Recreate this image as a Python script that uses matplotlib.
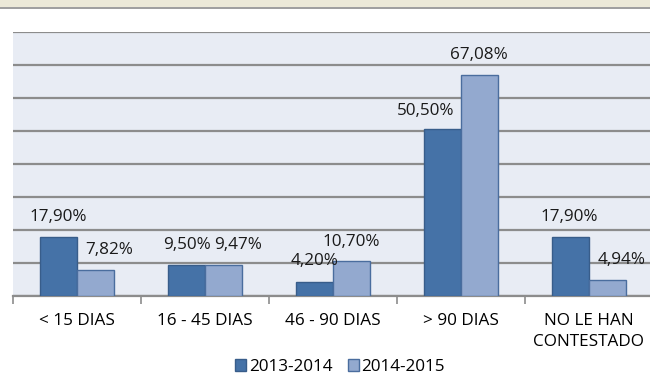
import matplotlib
matplotlib.use('Agg')
import matplotlib.pyplot as plt
from matplotlib.patches import Patch, Rectangle
import numpy as np

categories = ['< 15 DIAS', '16 - 45 DIAS', '46 - 90 DIAS', '> 90 DIAS', 'NO LE HAN\nCONTESTADO']
serie_1314 = [17.90, 9.50, 4.20, 50.50, 17.90]
serie_1415 = [7.82, 9.47, 10.70, 67.08, 4.94]
series_names = ['2013-2014', '2014-2015']

# nudges (pixels) so the value labels don't collide
dx_1314 = [0, 0, 0, -17, -1]
dx_1415 = [14, 15, 0, 0, 14]
dy_1314 = [20, 20, 21, 18, 20]
dy_1415 = [20, 20, 19, 20, 20]

plt.rcParams['font.family'] = ['Open Sans', 'DejaVu Sans']
FS = 12.3

dark = '#4572a7'
dark_edge = '#385d8a'
light = '#93a9cf'
light_edge = '#4a6d9e'

W, H = 650, 377
fig = plt.figure(figsize=(W / 100, H / 100), dpi=100)
fig.patch.set_facecolor('white')

# window strip at the top
fig.add_artist(Rectangle((0, 1 - 7 / H), 1, 7 / H, transform=fig.transFigure,
                         facecolor='#ece9d8', edgecolor='none'))
fig.add_artist(Rectangle((0, 1 - 9 / H), 1, 2 / H, transform=fig.transFigure,
                         facecolor='#a0a0a0', edgecolor='none'))

ax = fig.add_axes([13 / W, (H - 296) / H, 640 / W, 264 / H])
ax.set_facecolor('#e8ecf4')

x = np.arange(len(categories))
bw = 0.287
ax.bar(x - bw / 2, serie_1314, bw, color=dark, edgecolor=dark_edge, linewidth=1, zorder=3)
ax.bar(x + bw / 2, serie_1415, bw, color=light, edgecolor=light_edge, linewidth=1, zorder=3)

ax.set_xlim(-0.5, len(categories) - 0.5)
ax.set_ylim(0, 80)
ax.set_yticks(np.arange(0, 81, 10))
ax.yaxis.grid(True, color='#8c8c8c', linewidth=1.6, zorder=1)
ax.set_axisbelow(True)
ax.tick_params(axis='y', left=False, labelleft=False)

for s in ['left', 'right', 'top']:
    ax.spines[s].set_visible(False)
ax.spines['bottom'].set_color('#8c8c8c')
ax.spines['bottom'].set_linewidth(1.6)

ax.set_xticks(np.arange(-0.5, len(categories), 1.0))
ax.set_xticklabels([])
ax.tick_params(axis='x', length=6, width=1.2, color='#8c8c8c')

for i, cat in enumerate(categories):
    ax.annotate(cat, xy=(i, 0), xytext=(0, -17), textcoords='offset pixels',
                ha='center', va='top', fontsize=FS, color='black',
                linespacing=1.4, annotation_clip=False)

def fmt(v):
    return f'{v:.2f}%'.replace('.', ',')

for i in range(len(categories)):
    ax.annotate(fmt(serie_1314[i]), xy=(x[i] - bw / 2, serie_1314[i]),
                xytext=(dx_1314[i], dy_1314[i]), textcoords='offset pixels',
                ha='center', va='center', fontsize=FS, color='#1a1a1a', zorder=5)
    ax.annotate(fmt(serie_1415[i]), xy=(x[i] + bw / 2, serie_1415[i]),
                xytext=(dx_1415[i], dy_1415[i]), textcoords='offset pixels',
                ha='center', va='center', fontsize=FS, color='#1a1a1a', zorder=5)

handles = [Patch(facecolor=dark, edgecolor=dark_edge),
           Patch(facecolor=light, edgecolor=light_edge)]
fig.legend(handles, series_names, loc='center', bbox_to_anchor=(340 / W, 1 - 367 / H),
           ncol=2, frameon=False, fontsize=FS, handlelength=0.65, handleheight=0.65,
           handletextpad=0.15, columnspacing=0.9, borderpad=0)

fig.savefig('out.png', dpi=100)
